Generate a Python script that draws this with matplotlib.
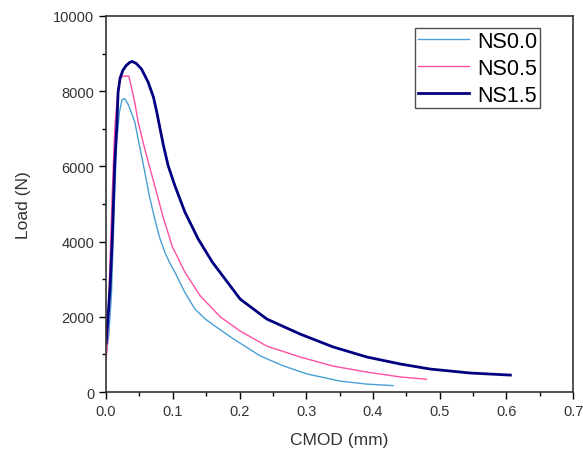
import numpy as np
import matplotlib
matplotlib.use("Agg")
import matplotlib.pyplot as plt
from matplotlib.ticker import MultipleLocator

plt.rcParams["font.family"] = ["Liberation Sans", "DejaVu Sans"]

# CMOD (mm) / load (N)
x_ns00 = [0.0, 0.004, 0.008, 0.010, 0.013, 0.016, 0.020, 0.024, 0.028, 0.033, 0.038,
          0.043, 0.050, 0.058, 0.065, 0.073, 0.080, 0.088, 0.095, 0.103, 0.118,
          0.133, 0.148, 0.163, 0.191, 0.231, 0.265, 0.301, 0.351, 0.391, 0.43]
y_ns00 = [1000, 1500, 2600, 3700, 5300, 6700, 7450, 7780, 7800, 7650, 7420,
          7180, 6550, 5850, 5200, 4600, 4120, 3720, 3450, 3190, 2650,
          2210, 1950, 1755, 1410, 960, 700, 480, 290, 210, 170]

x_ns05 = [0.0, 0.002, 0.005, 0.009, 0.013, 0.017, 0.021, 0.025, 0.034, 0.038, 0.043,
          0.048, 0.058, 0.065, 0.073, 0.085, 0.099, 0.118, 0.141, 0.171, 0.201,
          0.241, 0.291, 0.340, 0.391, 0.441, 0.48]
y_ns05 = [880, 1300, 3000, 5200, 7000, 7900, 8320, 8400, 8400, 8100, 7700,
          7180, 6460, 6000, 5480, 4680, 3880, 3190, 2560, 2000, 1620,
          1220, 930, 690, 530, 400, 340]

x_ns15 = [0.0, 0.003, 0.006, 0.009, 0.013, 0.016, 0.018, 0.021, 0.025, 0.030, 0.035,
          0.039, 0.045, 0.053, 0.063, 0.071, 0.076, 0.081, 0.086, 0.093, 0.103,
          0.118, 0.138, 0.159, 0.201, 0.241, 0.291, 0.340, 0.391, 0.441, 0.486,
          0.546, 0.606]
y_ns15 = [1300, 2020, 2820, 3990, 6120, 7050, 7980, 8350, 8550, 8680, 8760,
          8790, 8740, 8590, 8240, 7840, 7440, 6990, 6550, 6020, 5490,
          4790, 4070, 3460, 2470, 1940, 1540, 1200, 930, 745, 610,
          505, 450]

fig = plt.figure(figsize=(5.83, 4.52), dpi=100)
ax = fig.add_axes([0.182, 0.1305, 0.801, 0.832])

ax.plot(x_ns00, y_ns00, color="#4a9fd6", lw=1.0, label="NS0.0")
ax.plot(x_ns05, y_ns05, color="#ff4fa3", lw=1.0, label="NS0.5")
ax.plot(x_ns15, y_ns15, color="#000080", lw=2.0, label="NS1.5")

ax.set_xlim(0, 0.7)
ax.set_ylim(0, 10000)
ax.xaxis.set_major_locator(MultipleLocator(0.1))
ax.xaxis.set_minor_locator(MultipleLocator(0.05))
ax.yaxis.set_major_locator(MultipleLocator(2000))
ax.yaxis.set_minor_locator(MultipleLocator(1000))
ax.xaxis.set_major_formatter(plt.FuncFormatter(lambda v, p: "%.1f" % v))
ax.tick_params(which="both", direction="out", top=False, right=False,
               labelsize=10.5, labelcolor="#333333")
ax.tick_params(which="major", length=5, width=1)
ax.tick_params(which="minor", length=3, width=1)
for s in ax.spines.values():
    s.set_linewidth(1.2)
    s.set_color("#333333")

ax.set_xlabel("CMOD (mm)", fontsize=12.5, color="#333333", labelpad=10)
ax.set_ylabel("Load (N)", fontsize=12.5, color="#333333", labelpad=16)

leg = ax.legend(loc="upper right", bbox_to_anchor=(0.929, 0.968), fontsize=15.5,
                frameon=True, fancybox=False, handlelength=2.4, handletextpad=0.37,
                borderpad=0.12, labelspacing=0.28, borderaxespad=0)
leg.get_frame().set_edgecolor("#222222")
leg.get_frame().set_linewidth(1.0)

fig.savefig("out.png", dpi=100)
